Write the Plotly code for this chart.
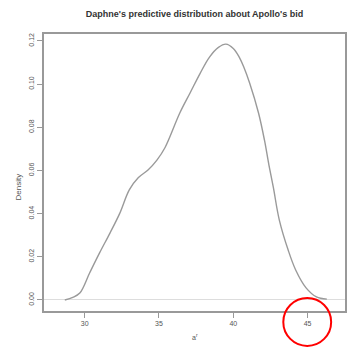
import plotly.graph_objects as go

# Density curve
bid = [28.66, 29.2, 29.67, 30.33, 31.0, 31.7, 32.35, 33.0, 33.6, 34.26, 34.86, 35.4,
       36.4, 37.1, 37.77, 38.4, 39.0, 39.5, 40.0, 40.4, 40.7, 41.1, 41.7, 42.1, 42.4,
       42.7, 43.1, 43.7, 44.2, 44.9, 45.6, 46.3]
density = [0.0, 0.0012, 0.0032, 0.0125, 0.0218, 0.031, 0.040, 0.051, 0.0566, 0.0602, 0.0648, 0.0705,
           0.0866, 0.096, 0.105, 0.1125, 0.117, 0.1185, 0.1165, 0.1125, 0.108, 0.1005, 0.0866, 0.074, 0.0625,
           0.052, 0.037, 0.023, 0.0139, 0.0056, 0.0014, 0.0004]

x_ticks = [30, 35, 40, 45]
y_ticks = [0.00, 0.02, 0.04, 0.06, 0.08, 0.10, 0.12]
y_tick_labels = ["0.00", "0.02", "0.04", "0.06", "0.08", "0.10", "0.12"]

title_text = "Daphne's predictive distribution about Apollo's bid"
x_label = "a<sup>r</sup>"
y_label = "Density"

fig = go.Figure()
fig.add_trace(go.Scatter(x=bid, y=density, mode="lines", line=dict(color="#9a9a9a", width=1.4, shape="spline"),
                         hoverinfo="skip", showlegend=False))

font_col = "#555555"
fig.update_layout(
    width=350, height=348,
    margin=dict(l=44, r=3, t=34, b=37),
    paper_bgcolor="white", plot_bgcolor="white",
    font=dict(family="Liberation Sans, Arial, sans-serif", color=font_col, size=7),
    title=dict(text="<b>" + title_text + "</b>", x=0.5, xref="paper", xanchor="center",
               y=1 - 14 / 348, yanchor="middle", font=dict(size=9, color="#333333")),
    xaxis=dict(range=[27.26, 47.52], tickvals=x_ticks, ticks="outside", ticklen=5, tickcolor="#999999",
               showline=True, linecolor="#999999", linewidth=1.5, mirror=True, showgrid=False, zeroline=False,
               tickfont=dict(size=7, color=font_col)),
    yaxis=dict(range=[-0.0051, 0.1232], tickvals=y_ticks, ticktext=y_tick_labels, ticks="outside", ticklen=5,
               tickcolor="#999999", tickangle=-90, showline=True, linecolor="#999999", linewidth=1.5, mirror=True,
               showgrid=False, zeroline=True, zerolinecolor="#dddddd", zerolinewidth=1,
               tickfont=dict(size=7, color=font_col)),
    annotations=[
        dict(text=y_label, x=-0.106, y=0.448, xref="paper", yref="paper", showarrow=False, textangle=-90,
             font=dict(size=8, color=font_col)),
        dict(text=x_label, x=0.502, y=-0.116, xref="paper", yref="paper", showarrow=False,
             font=dict(size=7, color=font_col)),
    ],
    shapes=[dict(type="circle", xref="paper", yref="paper", x0=0.795, x1=0.954, y0=-0.126, y1=0.047,
                 line=dict(color="red", width=2))],
)

fig.write_html("out.html")
